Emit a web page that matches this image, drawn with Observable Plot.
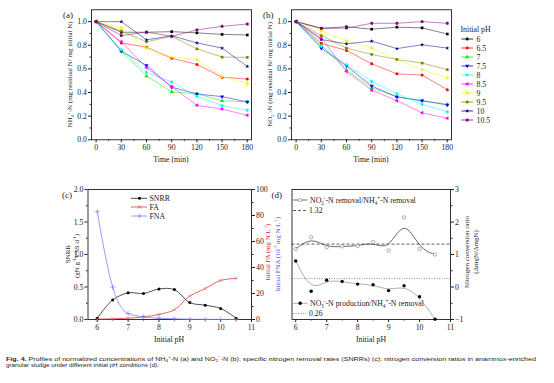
<!DOCTYPE html>
<html><head><meta charset="utf-8">
<script src="https://cdn.jsdelivr.net/npm/d3@7"></script>
<script src="https://cdn.jsdelivr.net/npm/@observablehq/plot@0.6"></script>
<style>
body{margin:0;background:#fff}
#root{position:relative;width:554px;height:383px;overflow:hidden;background:#fff}
#root svg{position:absolute;left:0;top:0}
</style></head><body><div id="root"></div>
<script>
// ---------- data ----------
const times = [0, 30, 60, 90, 120, 150, 180];
const phLabels = ["6", "6.5", "7", "7.5", "8", "8.5", "9", "9.5", "10", "10.5"];
// panel (a): NH4+-N residual fraction, one row per initial pH
const nh4Residual = [
  [1.00, 0.91, 0.91, 0.915, 0.905, 0.892, 0.887],
  [1.00, 0.82, 0.784, 0.69, 0.638, 0.53, 0.514],
  [1.00, 0.75, 0.54, 0.405, 0.39, 0.33, 0.322],
  [1.00, 0.75, 0.63, 0.445, 0.388, 0.365, 0.32],
  [1.00, 0.76, 0.57, 0.49, 0.368, 0.29, 0.25],
  [1.00, 0.83, 0.61, 0.45, 0.292, 0.26, 0.207],
  [1.00, 0.947, 0.776, 0.70, 0.677, 0.535, 0.477],
  [1.00, 0.92, 0.83, 0.875, 0.77, 0.70, 0.697],
  [1.00, 1.00, 0.846, 0.88, 0.82, 0.776, 0.62],
  [1.00, 0.882, 0.912, 0.875, 0.93, 0.96, 0.98]
];
// panel (b): NO2--N residual fraction
const no2Residual = [
  [1.00, 0.944, 0.956, 0.936, 0.953, 0.947, 0.895],
  [1.00, 0.816, 0.756, 0.643, 0.558, 0.548, 0.424],
  [1.00, 0.80, 0.59, 0.44, 0.365, 0.33, 0.30],
  [1.00, 0.776, 0.625, 0.455, 0.362, 0.331, 0.295],
  [1.00, 0.79, 0.635, 0.494, 0.39, 0.30, 0.236],
  [1.00, 0.86, 0.578, 0.42, 0.331, 0.228, 0.182],
  [1.00, 0.92, 0.837, 0.776, 0.68, 0.593, 0.525],
  [1.00, 0.882, 0.776, 0.722, 0.68, 0.649, 0.594],
  [1.00, 0.848, 0.812, 0.835, 0.772, 0.804, 0.776],
  [1.00, 0.942, 0.945, 0.986, 0.986, 1.00, 0.986]
];
// panel (c)
const initialPH = [6, 6.5, 7, 7.5, 8, 8.5, 9, 9.5, 10, 10.5];
const snrr = [0.02, 0.30, 0.41, 0.40, 0.47, 0.46, 0.26, 0.22, 0.17, 0.02];
const faInitial = [0.3, 0.5, 1.0, 2.0, 3.9, 7.5, 18.0, 23.8, 30.0, 31.7];
const fnaInitial = [83, 25, 4.6, 2.0, 1.0, 0.5, 0.2, 0.1, 0.05, 0.02];
// panel (d)
const ratioNO2toNH4 = [1.17, 1.53, 1.22, 1.25, 1.26, 1.38, 1.12, 2.14, 1.17, 1.00];
const ratioNO3toNH4 = [0.80, -0.13, 0.21, 0.17, 0.09, 0.07, -0.11, 0.04, -0.30, -0.99];
const refNO2 = 1.32, refNO3 = 0.26;

// ---------- styles ----------
const colors = ["#000000", "#ff0000", "#00ee00", "#0000ff", "#00ffff", "#ff00ff", "#f5f500", "#808000", "#000080", "#800080"];
function poly(n, rot) {
  return { draw(ctx, size) {
    const R = Math.sqrt(size / (n / 2 * Math.sin(2 * Math.PI / n)));
    for (let i = 0; i < n; i++) {
      const a = rot + 2 * Math.PI * i / n;
      const x = R * Math.sin(a), y = -R * Math.cos(a);
      i ? ctx.lineTo(x, y) : ctx.moveTo(x, y);
    }
    ctx.closePath();
  }};
}
const symbols = [d3.symbolSquare, d3.symbolCircle, poly(3, 0), poly(3, Math.PI), poly(4, 0),
  poly(3, -Math.PI / 2), poly(3, Math.PI / 2), poly(6, 0), d3.symbolStar, poly(5, 0)];

const W = 554, H = 383;
const FONT = "Liberation Serif, Times New Roman, serif";
const TXT = "#222";
const root = document.getElementById("root");
const baseStyle = {background: "transparent", fontFamily: FONT, fontSize: "7.8px", color: TXT, overflow: "visible"};

function frameBox(l, r, t, b) {
  return {width: W, height: H, marginLeft: l, marginRight: W - r, marginTop: t, marginBottom: H - b, style: baseStyle};
}

// ---------- panels (a) & (b) ----------
function timePanel(values, left) {
  const right = left + 160, top = 9.3, bottom = 139.3;
  const marks = [];
  values.forEach((arr, i) => {
    const d = arr.map((v, j) => ({t: times[j], v}));
    marks.push(Plot.line(d, {x: "t", y: "v", stroke: colors[i], strokeWidth: 0.7, strokeOpacity: 0.7}));
  });
  values.forEach((arr, i) => {
    const d = arr.map((v, j) => ({t: times[j], v}));
    marks.push(Plot.dot(d, {x: "t", y: "v", symbol: symbols[i], fill: colors[i], stroke: "none", r: i === 8 ? 1.3 : 1.5}));
  });
  marks.push(
    Plot.frame({stroke: "#000", strokeWidth: 0.8}),
    Plot.axisX([0, 30, 60, 90, 120, 150, 180], {tickSize: 3, tickPadding: 1.5, label: null}),
    Plot.axisX([15, 45, 75, 105, 135, 165], {tickSize: 1.5, tickFormat: () => "", label: null}),
    Plot.axisY([0, 0.2, 0.4, 0.6, 0.8, 1.0], {tickSize: 3, tickPadding: 1.5, tickFormat: d3.format(".1f"), label: null}),
    Plot.axisY([0.1, 0.3, 0.5, 0.7, 0.9], {tickSize: 1.5, tickFormat: () => "", label: null})
  );
  return Plot.plot({...frameBox(left, right, top, bottom), x: {domain: [-5.5, 185]}, y: {domain: [0, 1.1]}, marks});
}
root.append(timePanel(nh4Residual, 91));
root.append(timePanel(no2Residual, 291));

// ---------- panel (c) ----------
const cL = 87.5, cR = 251, cT = 189, cB = 319;
const cRows = initialPH.map((p, i) => ({p, snrr: snrr[i], fa: faInitial[i], fna: fnaInitial[i]}));
root.append(Plot.plot({
  ...frameBox(cL, cR, cT, cB),
  x: {domain: [5.7, 11]}, y: {domain: [0, 2]},
  marks: [
    Plot.line(cRows, {x: "p", y: "snrr", curve: "catmull-rom", stroke: "#222", strokeWidth: 0.8}),
    Plot.dot(cRows, {x: "p", y: "snrr", fill: "#000", r: 1.5}),
    Plot.frame({stroke: "#000", strokeWidth: 0.8}),
    Plot.axisX([6, 7, 8, 9, 10, 11], {tickSize: 3, tickPadding: 1.5, label: null}),
    Plot.axisX([6.5, 7.5, 8.5, 9.5, 10.5], {tickSize: 1.5, tickFormat: () => "", label: null}),
    Plot.axisY([0, 0.5, 1.0, 1.5, 2.0], {tickSize: 3, tickPadding: 1.5, tickFormat: d3.format(".1f"), label: null}),
    Plot.axisY([0.25, 0.75, 1.25, 1.75], {tickSize: 1.5, tickFormat: () => "", label: null})
  ]
}));
root.append(Plot.plot({
  ...frameBox(cL, cR, cT, cB),
  x: {domain: [5.7, 11], axis: null}, y: {domain: [0, 100], axis: null},
  marks: [
    Plot.line(cRows, {x: "p", y: "fa", curve: "catmull-rom", stroke: "#e23a3a", strokeWidth: 0.8}),
    Plot.dot(cRows, {x: "p", y: "fa", symbol: "times", stroke: "#f06060", r: 1.6, strokeWidth: 0.6}),
    Plot.line(cRows, {x: "p", y: "fna", curve: "monotone-x", stroke: "#8080ff", strokeWidth: 0.8}),
    Plot.dot(cRows, {x: "p", y: "fna", symbol: "plus", stroke: "#7070ff", r: 1.8, strokeWidth: 0.6}),
    Plot.axisY([0, 20, 40, 60, 80, 100], {anchor: "right", tickSize: 3, tickPadding: 1.5, label: null}),
    Plot.axisY([10, 30, 50, 70, 90], {anchor: "right", tickSize: 1.5, tickFormat: () => "", label: null})
  ]
}));

// ---------- panel (d) ----------
const dL = 291.5, dR = 450, dT = 189, dB = 319;
const dRows = initialPH.map((p, i) => ({p, a: ratioNO2toNH4[i], b: ratioNO3toNH4[i]}));
root.append(Plot.plot({
  ...frameBox(dL, dR, dT, dB),
  x: {domain: [5.88, 11]}, y: {domain: [-1, 3]},
  marks: [
    Plot.ruleY([refNO2], {stroke: "#333", strokeWidth: 0.8, strokeDasharray: "3,2"}),
    Plot.ruleY([refNO3], {stroke: "#777", strokeWidth: 0.8, strokeDasharray: "1,1.5"}),
    Plot.line(dRows, {x: "p", y: "a", curve: "basis", stroke: "#444", strokeWidth: 0.8}),
    Plot.dot(dRows, {x: "p", y: "a", stroke: "#777", fill: "#fff", r: 1.7, strokeWidth: 0.6}),
    Plot.line(dRows, {x: "p", y: "b", curve: "basis", stroke: "#999", strokeWidth: 0.8}),
    Plot.dot(dRows, {x: "p", y: "b", fill: "#000", r: 1.7}),
    Plot.frame({stroke: "#000", strokeWidth: 0.8}),
    Plot.axisX([6, 7, 8, 9, 10, 11], {tickSize: 3, tickPadding: 1.5, label: null}),
    Plot.axisX([6.5, 7.5, 8.5, 9.5, 10.5], {tickSize: 1.5, tickFormat: () => "", label: null}),
    Plot.axisY([-1, 0, 1, 2, 3], {anchor: "right", tickSize: 3, tickPadding: 1.5, label: null}),
    Plot.axisY([-0.5, 0.5, 1.5, 2.5], {anchor: "right", tickSize: 1.5, tickFormat: () => "", label: null})
  ]
}));

// ---------- labels, legends, caption ----------
const svg = d3.select(root).append("svg").attr("width", W).attr("height", H)
  .attr("font-family", FONT).attr("fill", TXT);

function rich(x, y, segs, attrs = {}) {
  const fs = attrs.fs || 7.8;
  const t = svg.append("text").attr("x", x).attr("y", y).attr("font-size", fs);
  if (attrs.anchor) t.attr("text-anchor", attrs.anchor);
  if (attrs.rotate) t.attr("transform", `rotate(${attrs.rotate},${x},${y})`);
  if (attrs.fill) t.attr("fill", attrs.fill);
  if (attrs.family) t.attr("font-family", attrs.family);
  if (attrs.length) t.attr("textLength", attrs.length).attr("lengthAdjust", "spacingAndGlyphs");
  let shift = 0;
  segs.forEach(s => {
    const [str, type, weight] = typeof s === "string" ? [s, null] : s;
    const target = type === "sub" ? 0.25 : type === "sup" ? -0.36 : 0;
    const ts = t.append("tspan").text(str);
    const dy = (target - shift) * fs;
    if (dy) ts.attr("dy", dy.toFixed(2));
    if (type === "sub" || type === "sup") ts.attr("font-size", fs * 0.65);
    if (weight) ts.attr("font-weight", weight);
    shift = target;
  });
  return t;
}

// panel letters
rich(63, 18, ["(a)"], {fs: 9});
rich(263, 18, ["(b)"], {fs: 9});
rich(62, 197.5, ["(c)"], {fs: 9});
rich(271.5, 197.5, ["(d)"], {fs: 9});

// axis titles (a)/(b)
rich(171, 162, ["Time (min)"], {anchor: "middle"});
rich(371, 162, ["Time (min)"], {anchor: "middle"});
rich(72.5, 74.3, ["NH", ["4", "sub"], ["+", "sup"], "-N (mg residual N/ mg initial N)"], {anchor: "middle", rotate: -90, fs: 7});
rich(272.5, 74.3, ["NO", ["2", "sub"], ["-", "sup"], "-N (mg residual N/ mg initial N)"], {anchor: "middle", rotate: -90, fs: 7});

// legend (b)
rich(460.5, 32, ["Initial pH"]);
phLabels.forEach((ph, i) => {
  const y = 39 + 9 * i;
  svg.append("line").attr("x1", 461.5).attr("x2", 473).attr("y1", y).attr("y2", y)
    .attr("stroke", colors[i]).attr("stroke-width", 0.8);
  svg.append("path").attr("d", d3.symbol(symbols[i], i === 8 ? 5.5 : 7)())
    .attr("transform", `translate(467.2,${y})`).attr("fill", colors[i]);
  rich(476.5, y + 2.7, [ph]);
});

// axis titles (c)
rich(169, 342, ["Initial pH"], {anchor: "middle"});
rich(69.5, 254, ["SNRR"], {anchor: "middle", rotate: -90, fs: 7});
rich(78.5, 256, ["(gN g", ["-1", "sup"], "VSS d", ["-1", "sup"], ")"], {anchor: "middle", rotate: -90, fs: 7});
rich(269.5, 252, ["Initial FA (mg N L", ["-1", "sup"], ")"], {anchor: "middle", rotate: -90, fs: 6.8, fill: "#e02020"});
rich(279.5, 254, ["Initial FNA (10", ["-3", "sup"], " mg N L", ["-1", "sup"], ")"], {anchor: "middle", rotate: -90, fs: 6.8, fill: "#5050ee"});

// legend (c)
const cLeg = [
  {label: "SNRR", color: "#222", y: 198.3, sym: "dot"},
  {label: "FA", color: "#e23a3a", y: 207, sym: "times"},
  {label: "FNA", color: "#8080ff", y: 216, sym: "plus"}
];
cLeg.forEach(e => {
  svg.append("line").attr("x1", 131).attr("x2", 147).attr("y1", e.y).attr("y2", e.y)
    .attr("stroke", e.color).attr("stroke-width", 0.8);
  if (e.sym === "dot") svg.append("circle").attr("cx", 139.5).attr("cy", e.y).attr("r", 1.5).attr("fill", "#000");
  else svg.append("path").attr("d", d3.symbol(e.sym === "times" ? d3.symbolTimes : d3.symbolPlus, 9)())
    .attr("transform", `translate(139.5,${e.y})`).attr("stroke", e.color).attr("fill", "none").attr("stroke-width", 0.6);
  rich(149.5, e.y + 2.7, [e.label]);
});

// axis titles (d)
rich(468.5, 252, ["Nitrogen conversion ratio"], {anchor: "middle", rotate: -90, fs: 7});
rich(477.5, 252, ["(\u0394mgN/\u0394mgN)"], {anchor: "middle", rotate: -90, fs: 7});
rich(371, 342, ["Initial pH"], {anchor: "middle"});

// legend (d)
function dLegLine(y, stroke, dash) {
  const l = svg.append("line").attr("x1", 293).attr("x2", 307.5).attr("y1", y).attr("y2", y)
    .attr("stroke", stroke).attr("stroke-width", 0.8);
  if (dash) l.attr("stroke-dasharray", dash);
}
dLegLine(200, "#444");
svg.append("circle").attr("cx", 300.2).attr("cy", 200).attr("r", 1.7).attr("fill", "#fff").attr("stroke", "#777").attr("stroke-width", 0.6);
rich(310, 202.7, ["NO", ["2", "sub"], ["-", "sup"], "-N removal/NH", ["4", "sub"], ["+", "sup"], "-N removal"]);
dLegLine(210.5, "#333", "3,2");
rich(309, 213.2, [String(refNO2)]);
dLegLine(303.3, "#999");
svg.append("circle").attr("cx", 300.2).attr("cy", 303.3).attr("r", 1.7).attr("fill", "#000");
rich(310, 306, ["NO", ["3", "sub"], ["-", "sup"], "-N production/NH", ["4", "sub"], ["+", "sup"], "-N removal"]);
dLegLine(313.5, "#777", "1,1.5");
rich(309, 316.2, [String(refNO3)]);

// caption
const CAP = "Liberation Sans Narrow, Liberation Sans, Arial, sans-serif";
rich(6, 360.5, [["Fig. 4.", null, "bold"], "  Profiles of normalized concentrations of NH", ["4", "sub"], ["+", "sup"],
  "-N (a) and NO", ["2", "sub"], ["\u2212", "sup"], "-N (b); specific nitrogen removal rates (SNRRs) (c); nitrogen conversion ratios in anammox-enriched"],
  {fs: 5.7, family: CAP, fill: "#222", length: 530});
rich(6, 367, ["granular sludge under different initial pH conditions (d)."], {fs: 5.7, family: CAP, fill: "#222", length: 153});
</script></body></html>
